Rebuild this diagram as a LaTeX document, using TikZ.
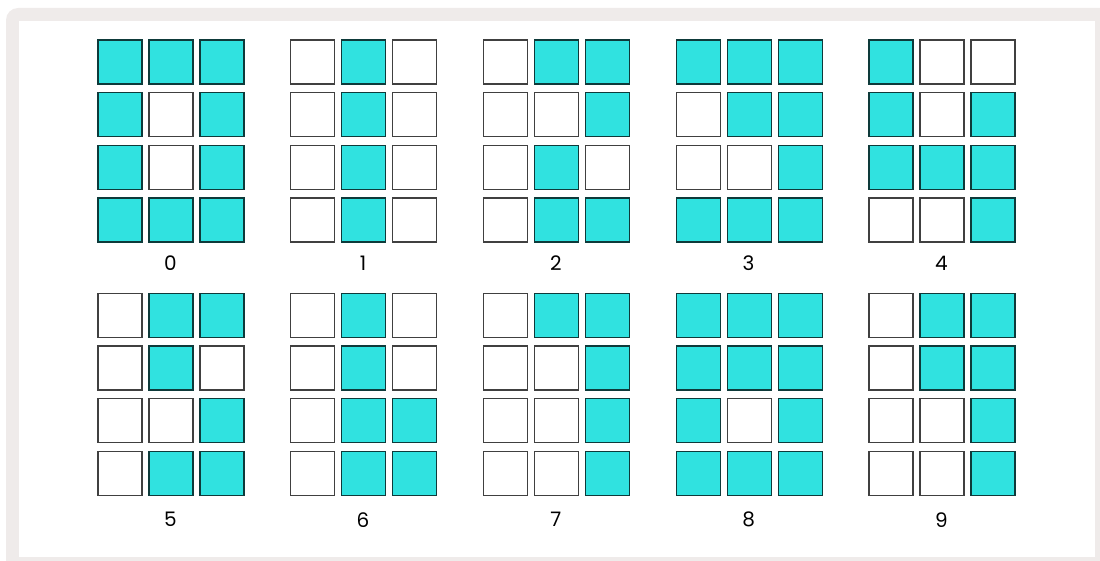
\documentclass[tikz,border=0pt]{standalone}
\usepackage{fontspec}
\setmainfont{Poppins}
\definecolor{frame}{HTML}{EFEBEA}
\definecolor{teal}{HTML}{30E2E0}
\definecolor{tealedge}{HTML}{0E3A3A}
\tikzset{
  cell/.style={draw=black!75, line width=1.3pt, fill=white, minimum size=44pt, inner sep=0pt, anchor=north west},
  on/.style={fill=teal, draw=tealedge},
  digit/.style={font=\fontsize{20}{22}\selectfont, inner sep=0pt}
}
\begin{document}
\begin{tikzpicture}[x=1pt,y=-1pt]
\useasboundingbox (0,0) rectangle (1100,561);
\fill[frame, rounded corners=12pt] (6,8) rectangle (1112,573);
\fill[white] (19,21) rectangle (1095,557);
% patterns: digit/rowblock/colgroup/pattern
\foreach \d/\R/\G/\p in {
  0/0/0/{1,1,1,1,0,1,1,0,1,1,1,1},
  1/0/1/{0,1,0,0,1,0,0,1,0,0,1,0},
  2/0/2/{0,1,1,0,0,1,0,1,0,0,1,1},
  3/0/3/{1,1,1,0,1,1,0,0,1,1,1,1},
  4/0/4/{1,0,0,1,0,1,1,1,1,0,0,1},
  5/1/0/{0,1,1,0,1,0,0,0,1,0,1,1},
  6/1/1/{0,1,0,0,1,0,0,1,1,0,1,1},
  7/1/2/{0,1,1,0,0,1,0,0,1,0,0,1},
  8/1/3/{1,1,1,1,1,1,1,0,1,1,1,1},
  9/1/4/{0,1,1,0,1,1,0,0,1,0,0,1}}{
  \pgfmathsetmacro{\gx}{97.3+192.75*\G}
  \pgfmathsetmacro{\gy}{39.3+253.4*\R}
  \foreach \v [count=\i from 0] in \p {
    \pgfmathtruncatemacro{\row}{int(\i/3)}
    \pgfmathtruncatemacro{\col}{mod(\i,3)}
    \ifnum\v=1
      \node[cell,on] (c\d-\row-\col) at (\gx+51*\col,\gy+52.7*\row) {};
    \else
      \node[cell] (c\d-\row-\col) at (\gx+51*\col,\gy+52.7*\row) {};
    \fi
  }
  \pgfmathsetmacro{\ly}{\gy+224+\R*3}
  \node[digit] (lab\d) at (\gx+73,\ly) {\d};
}
\end{tikzpicture}
\end{document}
